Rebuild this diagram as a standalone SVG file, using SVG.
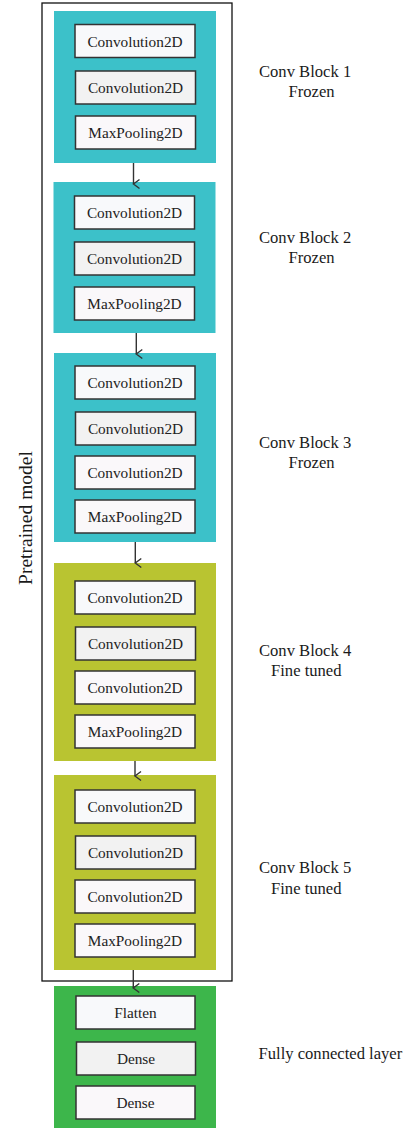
<svg xmlns="http://www.w3.org/2000/svg" width="408" height="1128" viewBox="0 0 408 1128">
<defs>
<style>
.frame{fill:none;stroke:#111;stroke-width:1.3}
.teal{fill:#3cc1c9}
.olive{fill:#b9c431}
.green{fill:#3db64b}
.box{stroke:#333;stroke-width:1.5}
.f1{fill:#f8f9fb}
.f2{fill:#f2f2f2}
.f3{fill:#faf8fa}
.bt{font-family:"Liberation Serif","Times New Roman",serif;font-size:15.3px;fill:#222;text-anchor:middle}
.lb{font-family:"Liberation Serif","Times New Roman",serif;font-size:16.6px;fill:#1a1a1a}
.conn line{stroke:#333;stroke-width:1.4}
</style>
<marker id="arr" markerWidth="12" markerHeight="12" refX="6" refY="8" orient="auto" markerUnits="userSpaceOnUse" viewBox="0 0 12 12">
<path d="M1.5,2 L6,8 L10.5,2" fill="none" stroke="#333" stroke-width="1.4"/>
</marker>
</defs>
<rect width="408" height="1128" fill="#fff"/>

<g id="pretrained">
<rect class="frame" x="42" y="3" width="190" height="978"/>
<text class="lb" style="font-size:19.5px;text-anchor:middle" transform="translate(31.5,518) rotate(-90)">Pretrained model</text>
</g>

<g id="block1">
<rect class="teal" x="54" y="11" width="162" height="152"/>
<rect class="box f1" x="75" y="24.5" width="120" height="33"/><text class="bt" x="135" y="46.5">Convolution2D</text>
<rect class="box f2" x="75.5" y="71" width="120" height="33"/><text class="bt" x="135.5" y="93">Convolution2D</text>
<rect class="box f3" x="75.5" y="116" width="120" height="33"/><text class="bt" x="135.5" y="138">MaxPooling2D</text>
<text class="lb" x="259" y="77">Conv Block 1</text>
<text class="lb" x="288.5" y="97">Frozen</text>
</g>

<g id="block2">
<rect class="teal" x="53.5" y="182" width="162" height="151"/>
<rect class="box f1" x="74.5" y="196" width="120" height="33"/><text class="bt" x="134.5" y="218">Convolution2D</text>
<rect class="box f2" x="74.5" y="242" width="120" height="33"/><text class="bt" x="134.5" y="264">Convolution2D</text>
<rect class="box f3" x="74.5" y="287" width="120" height="33"/><text class="bt" x="134.5" y="309">MaxPooling2D</text>
<text class="lb" x="259" y="242.5">Conv Block 2</text>
<text class="lb" x="288.5" y="262.5">Frozen</text>
</g>

<g id="block3">
<rect class="teal" x="54" y="353" width="162" height="189"/>
<rect class="box f1" x="75" y="366" width="120" height="33"/><text class="bt" x="135" y="388">Convolution2D</text>
<rect class="box f2" x="75.5" y="412" width="120" height="33"/><text class="bt" x="135.5" y="434">Convolution2D</text>
<rect class="box f3" x="75" y="456" width="120" height="33"/><text class="bt" x="135" y="478">Convolution2D</text>
<rect class="box f3" x="75" y="500" width="120" height="33"/><text class="bt" x="135" y="522">MaxPooling2D</text>
<text class="lb" x="259" y="447.5">Conv Block 3</text>
<text class="lb" x="288.5" y="468">Frozen</text>
</g>

<g id="block4">
<rect class="olive" x="54" y="563" width="162" height="198"/>
<rect class="box f1" x="75" y="581" width="120" height="33"/><text class="bt" x="135" y="603">Convolution2D</text>
<rect class="box f2" x="75.5" y="627" width="120" height="33"/><text class="bt" x="135.5" y="649">Convolution2D</text>
<rect class="box f3" x="75" y="671" width="120" height="33"/><text class="bt" x="135" y="693">Convolution2D</text>
<rect class="box f3" x="75" y="715" width="120" height="33"/><text class="bt" x="135" y="737">MaxPooling2D</text>
<text class="lb" x="259" y="656">Conv Block 4</text>
<text class="lb" x="271" y="676">Fine tuned</text>
</g>

<g id="block5">
<rect class="olive" x="54" y="775" width="162" height="195"/>
<rect class="box f1" x="75" y="790" width="120" height="33"/><text class="bt" x="135" y="812">Convolution2D</text>
<rect class="box f2" x="75.5" y="836" width="120" height="33"/><text class="bt" x="135.5" y="858">Convolution2D</text>
<rect class="box f3" x="75" y="880" width="120" height="33"/><text class="bt" x="135" y="902">Convolution2D</text>
<rect class="box f3" x="75" y="924" width="120" height="33"/><text class="bt" x="135" y="946">MaxPooling2D</text>
<text class="lb" x="259" y="873">Conv Block 5</text>
<text class="lb" x="271" y="893.5">Fine tuned</text>
</g>

<g id="fc">
<rect class="green" x="54" y="986" width="162" height="142"/>
<rect class="box f1" x="76" y="996" width="119" height="33"/><text class="bt" x="135.5" y="1018">Flatten</text>
<rect class="box f2" x="76.5" y="1042" width="119" height="33"/><text class="bt" x="136" y="1064">Dense</text>
<rect class="box f3" x="76" y="1086" width="119" height="33"/><text class="bt" x="135.5" y="1108">Dense</text>
<text class="lb" x="258.5" y="1058.5">Fully connected layer</text>
</g>

<g class="conn" id="connectors">
<line x1="133.5" y1="163" x2="133.5" y2="184" marker-end="url(#arr)"/>
<line x1="136.3" y1="333" x2="136.3" y2="354" marker-end="url(#arr)"/>
<line x1="135.3" y1="542" x2="135.3" y2="563" marker-end="url(#arr)"/>
<line x1="135" y1="761" x2="135" y2="776" marker-end="url(#arr)"/>
<line x1="133.3" y1="970" x2="133.3" y2="988" marker-end="url(#arr)"/>
</g>
</svg>
